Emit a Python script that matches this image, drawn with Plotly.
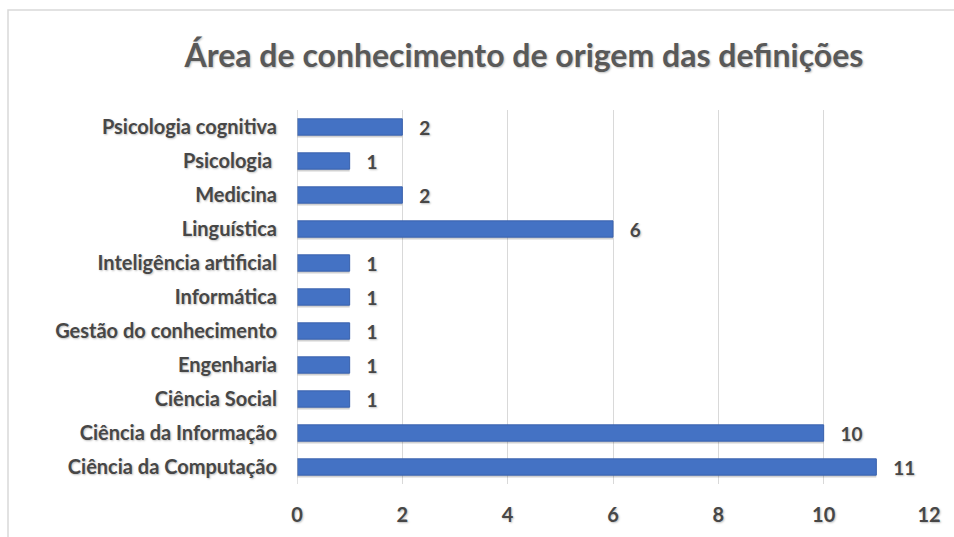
import plotly.graph_objects as go

categories = ["Ciência da Computação", "Ciência da Informação", "Ciência Social", "Engenharia",
              "Gestão do conhecimento", "Informática", "Inteligência artificial", "Linguística",
              "Medicina", "Psicologia ", "Psicologia cognitiva"]
values = [11, 10, 1, 1, 1, 1, 1, 6, 2, 1, 2]
x_ticks = [0, 2, 4, 6, 8, 10, 12]

W, H = 954, 537
L, R, T, B = 297, 25, 110, 53
pw, ph = W - L - R, H - T - B

font = "Lato, Calibri, 'Open Sans', sans-serif"
shadow = "1px 1px 2px rgba(0,0,0,0.25)"
txt = "#474747"
bw = 0.48

fig = go.Figure()
# soft drop shadow under the bars
fig.add_trace(go.Bar(
    y=categories, x=values, orientation="h",
    marker=dict(color="rgba(0,0,0,0.18)", line=dict(width=0)),
    width=bw, offset=-bw / 2 - 0.07, hoverinfo="skip",
))
fig.add_trace(go.Bar(
    y=categories, x=values, orientation="h",
    marker=dict(color="#4472C4", line=dict(color="#3A62AE", width=1)),
    width=bw, offset=-bw / 2,
    texttemplate="   %{x}", textposition="outside", constraintext="none",
    textfont=dict(family=font, size=19, color=txt, weight="bold", shadow=shadow),
    cliponaxis=False,
))

fig.update_layout(
    width=W, height=H,
    margin=dict(l=L, r=R, t=T, b=B),
    paper_bgcolor="white", plot_bgcolor="white",
    showlegend=False, barmode="overlay",
    title=dict(text="Área de conhecimento de origem das definições",
               x=524 / W, xref="container", xanchor="center", y=1 - 56 / H, yanchor="middle",
               font=dict(family=font, size=32, color="#595959", weight="bold", shadow=shadow)),
    xaxis=dict(range=[0, 12], tickvals=x_ticks, showgrid=True, gridcolor="#D9D9D9", gridwidth=1,
               zeroline=False, showline=False, ticks="", ticklabelstandoff=17,
               tickfont=dict(family=font, size=20, color=txt, weight="bold", shadow=shadow)),
    yaxis=dict(showgrid=False, zeroline=False, showline=False, ticks="",
               ticklabelstandoff=19,
               tickfont=dict(family=font, size=20, color=txt, weight="bold", shadow=shadow)),
    shapes=[
        dict(type="line", xref="x", yref="paper", x0=0, x1=0, y0=0, y1=1,
             line=dict(color="#BFBFBF", width=1)),
        dict(type="rect", xref="paper", yref="paper",
             x0=(8 - L) / pw, x1=(W + 5 - L) / pw, y0=-(H + 5 - T - ph) / ph, y1=1 + (T - 10) / ph,
             line=dict(color="#D9D9D9", width=1.5), layer="below"),
    ],
)

fig.write_html("out.html")
